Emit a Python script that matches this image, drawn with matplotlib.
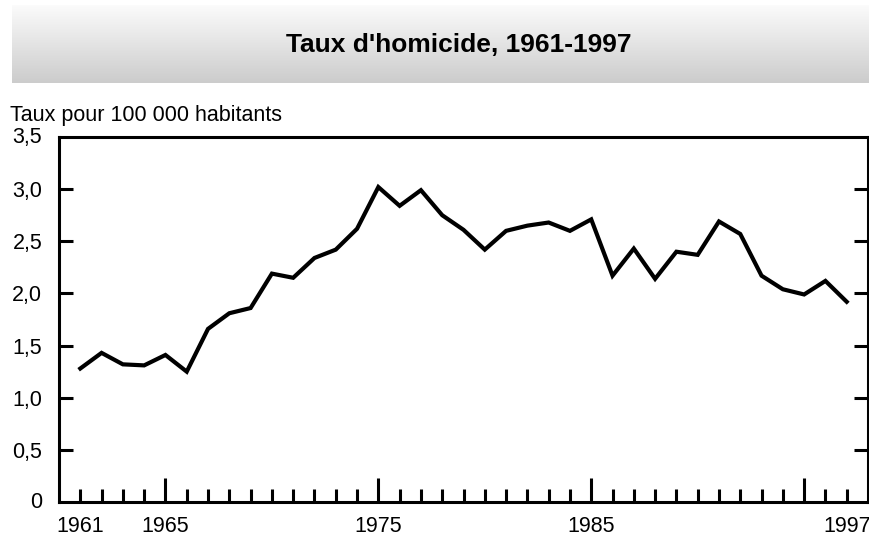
import matplotlib
matplotlib.use("Agg")
import matplotlib.pyplot as plt
import numpy as np

plt.rcParams['font.family'] = ['Liberation Sans', 'DejaVu Sans']

years = list(range(1961, 1998))
taux = [1.28, 1.43, 1.32, 1.31, 1.41, 1.25, 1.66, 1.81, 1.86, 2.19,
        2.15, 2.34, 2.42, 2.62, 3.02, 2.84, 2.99, 2.75, 2.61, 2.42,
        2.60, 2.65, 2.68, 2.60, 2.71, 2.17, 2.43, 2.14, 2.40, 2.37,
        2.69, 2.57, 2.17, 2.04, 1.99, 2.12, 1.92]

x_labels = [1961, 1965, 1975, 1985, 1997]
major_ticks = [1965, 1975, 1985, 1995]
y_ticks = [0.5, 1.0, 1.5, 2.0, 2.5, 3.0]

fs = 15.5

fig = plt.figure(figsize=(8.7, 5.39), dpi=100)

# gray gradient title band
band = fig.add_axes([12 / 870, 1 - 83 / 539, 1 - 12 / 870, 78 / 539])
grad = np.linspace(0.985, 0.80, 100).reshape(-1, 1)
band.imshow(np.dstack([grad, grad, grad]), aspect='auto', extent=[0, 1, 0, 1])
band.set_axis_off()
fig.text(459 / 870, 1 - 45 / 539, "Taux d'homicide, 1961-1997", ha='center', va='center',
         fontsize=19, fontweight='bold')

ax = fig.add_axes([59 / 870, 1 - 502 / 539, 809 / 870, 365 / 539])
ax.plot(years, taux, color='black', lw=3, solid_joinstyle='miter')
ax.set_xlim(1960, 1998)
ax.set_ylim(0, 3.5)

for s in ax.spines.values():
    s.set_linewidth(2.2)

# y ticks on both sides, inward
ax.set_yticks(y_ticks)
ax.tick_params(axis='y', direction='in', length=10, width=2.2, left=True, right=True,
               labelsize=fs, pad=12)
ax.set_yticklabels([f"{v:.1f}".replace('.', ',') for v in y_ticks])
ax.text(-0.021, 1.0, "3,5", transform=ax.transAxes, ha='right', va='center', fontsize=fs)
ax.text(-0.021, 0.0, "0", transform=ax.transAxes, ha='right', va='center', fontsize=fs)

# x ticks: short every year, long every 10 years, labels on a few
ax.set_xticks(years, minor=True)
ax.set_xticks(major_ticks)
ax.set_xticklabels([])
ax.tick_params(axis='x', which='minor', direction='in', length=9.5, width=2.2, top=False)
ax.tick_params(axis='x', which='major', direction='in', length=17, width=2.2, top=False)
for yr in x_labels:
    ax.text(yr, -0.038, str(yr), transform=ax.get_xaxis_transform(), ha='center', va='top',
            fontsize=fs)

fig.text(10 / 870, 1 - 116 / 539, "Taux pour 100 000 habitants", ha='left', va='center',
         fontsize=fs)

plt.savefig('out.png', dpi=100)
